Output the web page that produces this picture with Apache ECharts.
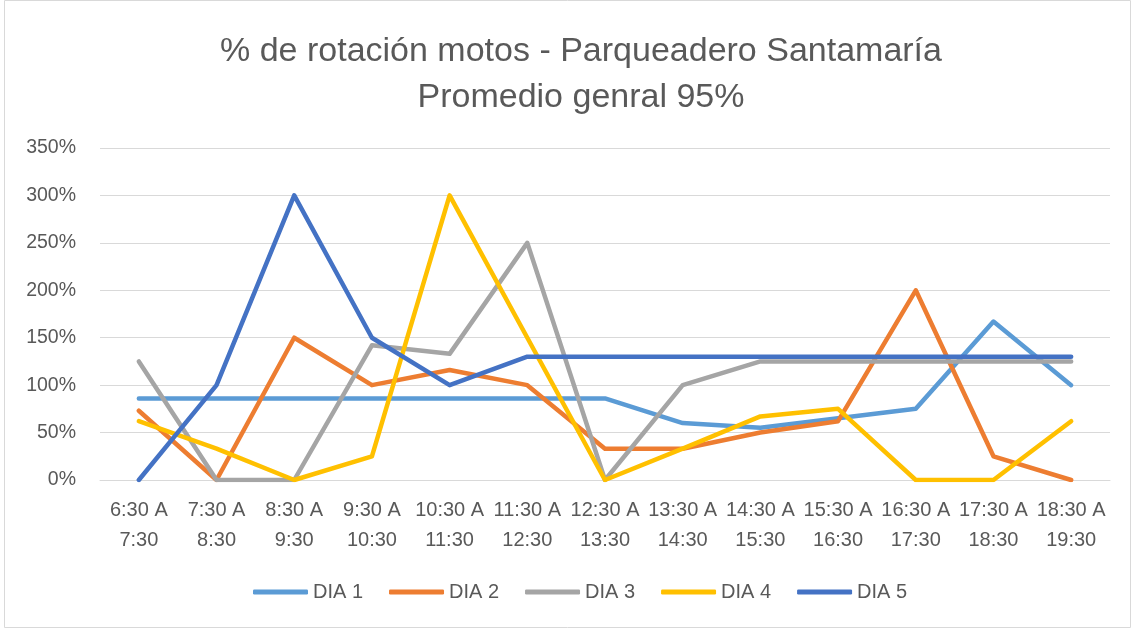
<!DOCTYPE html>
<html>
<head>
<meta charset="utf-8">
<script src="https://cdn.jsdelivr.net/npm/echarts@6/dist/echarts.min.js"></script>
<style>
	html,body{margin:0;padding:0;background:#fff;}
	#main{width:1134px;height:630px;}
</style>
</head>
<body>
<div id="main"></div>
<script>
	var horas = ['6:30 A\n7:30', '7:30 A\n8:30', '8:30 A\n9:30', '9:30 A\n10:30', '10:30 A\n11:30', '11:30 A\n12:30',
		'12:30 A\n13:30', '13:30 A\n14:30', '14:30 A\n15:30', '15:30 A\n16:30', '16:30 A\n17:30', '17:30 A\n18:30', '18:30 A\n19:30'];
	var dia1 = [86, 86, 86, 86, 86, 86, 86, 60, 55, 65, 75, 167, 100];
	var dia2 = [73, 0, 150, 100, 116, 100, 33, 33, 50, 62, 200, 25, 0];
	var dia3 = [125, 0, 0, 142, 133, 250, 0, 100, 125, 125, 125, 125, 125];
	var dia4 = [62, 33, 0, 25, 300, 150, 0, 33, 67, 75, 0, 0, 62];
	var dia5 = [0, 100, 300, 150, 100, 130, 130, 130, 130, 130, 130, 130, 130];
	var nombres = ['DIA 1', 'DIA 2', 'DIA 3', 'DIA 4', 'DIA 5'];
	var colores = ['#5B9BD5', '#ED7D31', '#A5A5A5', '#FFC000', '#4472C4'];

	var fuente = 'Liberation Sans, Arial, sans-serif';
	var datos = [dia1, dia2, dia3, dia4, dia5];
	var series = [];
	for (var i = 0; i < datos.length; i++) {
		series.push({
			name: nombres[i],
			type: 'line',
			data: datos[i],
			symbol: 'none',
			lineStyle: { width: 4.5, cap: 'round', join: 'round' },
			z: 2 + i
		});
	}

	var myChart = echarts.init(document.getElementById('main'));
	var option = {
		color: colores,
		animation: false,
		title: {
			text: '% de rotación motos - Parqueadero Santamaría\nPromedio genral 95%',
			left: 576,
			textAlign: 'center',
			top: 24,
			textStyle: {
				color: '#595959',
				fontSize: 34,
				fontWeight: 'normal',
				fontFamily: fuente,
				lineHeight: 46
			}
		},
		graphic: [{
			type: 'rect',
			shape: { x: 4.5, y: 0.5, width: 1126, height: 627 },
			style: { fill: 'none', stroke: '#d9d9d9', lineWidth: 1 },
			silent: true
		}],
		legend: {
			bottom: 23,
			left: 248,
			itemWidth: 55,
			itemHeight: 5,
			itemGap: 26,
			icon: 'roundRect',
			textStyle: { color: '#595959', fontSize: 20, fontFamily: fuente },
			data: nombres
		},
		grid: {
			left: 100,
			right: 24,
			top: 148,
			bottom: 150
		},
		xAxis: {
			type: 'category',
			data: horas,
			boundaryGap: true,
			axisLine: { lineStyle: { color: '#d9d9d9', width: 1 } },
			axisTick: { show: false },
			axisLabel: {
				interval: 0,
				color: '#595959',
				fontSize: 20,
				fontFamily: fuente,
				lineHeight: 30,
				margin: 15
			}
		},
		yAxis: {
			type: 'value',
			min: 0,
			max: 350,
			interval: 50,
			axisLine: { show: false },
			axisTick: { show: false },
			splitLine: { lineStyle: { color: '#d9d9d9', width: 1 } },
			axisLabel: {
				color: '#595959',
				fontSize: 19.5,
				fontFamily: fuente,
				margin: 24,
				formatter: '{value}%'
			}
		},
		series: series
	};
	myChart.setOption(option);
</script>
</body>
</html>
